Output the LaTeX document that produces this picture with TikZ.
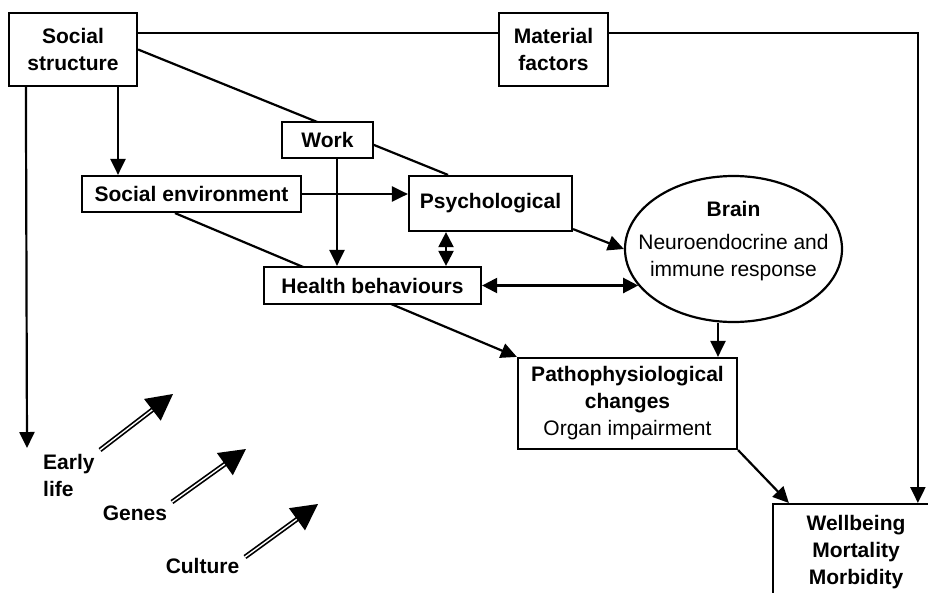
\documentclass[tikz,border=0pt]{standalone}
\usepackage{fontspec}
\setmainfont{Liberation Sans}
\usetikzlibrary{arrows.meta,shapes.geometric,calc}
\pgfdeclarelayer{bg}
\pgfsetlayers{bg,main}
\begin{document}
\begin{tikzpicture}[x=1pt,y=-1pt,
  every node/.style={font=\fontsize{21}{27}\selectfont, inner sep=0pt},
  box/.style={draw, line width=2.2pt, fill=white, align=center, font=\fontsize{21}{27}\selectfont\bfseries},
  conn/.style={line width=2.2pt},
  arr/.style={conn, -{Triangle[length=16pt,width=15pt]}},
  darr/.style={conn, {Triangle[length=15pt,width=15pt]}-{Triangle[length=15pt,width=15pt]}},
  fat/.style={double, line width=1.7pt, double distance=1.4pt, -{Triangle[length=26pt,width=27pt]}},
  lbl/.style={font=\fontsize{21}{27}\selectfont\bfseries}
]
\useasboundingbox (0,0) rectangle (928,592);
\clip (0,0) rectangle (928,592);

\node[box, minimum width=128pt, minimum height=73pt] (ss) at (73,49.5) {Social\\structure};
\node[box, minimum width=109pt, minimum height=73pt] (mf) at (553.5,49.5) {Material\\factors};
\node[box, minimum width=91pt, minimum height=36pt] (work) at (327.5,140) {Work};
\node[box, minimum width=219pt, minimum height=36pt] (senv) at (191.5,194) {Social environment};
\node[box, minimum width=163pt, minimum height=55pt] (psy) at (490.5,203.5) {Psychological};
\node[box, minimum width=217pt, minimum height=37pt] (hb) at (372.5,285.5) {Health behaviours};
\node[draw, ellipse, line width=2.2pt, fill=white, minimum width=217pt, minimum height=146pt] (brain) at (733.5,249) {};
\node[align=center] (braintxt) at (733.5,241) {\textbf{Brain}\\[6pt]Neuroendocrine and\\immune response};
\node[box, minimum width=219pt, minimum height=91pt] (patho) at (627.5,403.5) {Pathophysiological\\changes\\\mdseries Organ impairment};
\node[box, anchor=north, minimum width=166pt, inner ysep=11pt] (wb) at (856,503) {Wellbeing\\Mortality\\Morbidity};

\node[lbl, anchor=west, align=left] (early) at (43,475) {Early\\life};
\node[lbl] (genes) at (135,513) {Genes};
\node[lbl] (culture) at (202.5,566) {Culture};

\coordinate (ela) at (100,450);
\coordinate (elb) at (173,394);
\coordinate (gna) at (172,502);
\coordinate (gnb) at (246,449);
\coordinate (cua) at (245,557);
\coordinate (cub) at (318,504);
\coordinate (elend) at (27,448);

\begin{pgfonlayer}{bg}
\draw[conn] (ss.east) -- ([xshift=-42.5pt]psy.north);
\draw[arr] ([xshift=-16.5pt]senv.south) -- (patho.north west);
\end{pgfonlayer}

\draw[arr] ([xshift=45pt]ss.south) -- ([xshift=45pt]ss.south |- senv.north);
\draw[arr] ([xshift=18pt]ss.south west) -- (elend);
\draw[conn] ([yshift=16.5pt]ss.east) -- ([yshift=16.5pt]ss.east -| mf.west);
\draw[arr] ([yshift=16.5pt]mf.east) -| ([xshift=146pt]wb.north west);
\draw[arr] (senv.east) -- (senv.east -| psy.west);
\draw[arr] ([xshift=9.5pt]work.south) -- ([xshift=9.5pt]work.south |- hb.north);
\draw[darr] ([xshift=-44.5pt]psy.south) -- ([xshift=-44.5pt]psy.south |- hb.north);
\draw[arr] ([yshift=3pt]psy.south east) -- (brain.west);
\draw[darr] (hb.east) -- (hb.east -| brain.201);
\draw[arr] ([xshift=-15.5pt]brain.south) -- ([xshift=-15.5pt]brain.south |- patho.north);
\draw[arr] (patho.south east) -- ([xshift=17pt]wb.north west);

\draw[fat] (ela) -- (elb);
\draw[fat] (gna) -- (gnb);
\draw[fat] (cua) -- (cub);
\end{tikzpicture}
\end{document}
